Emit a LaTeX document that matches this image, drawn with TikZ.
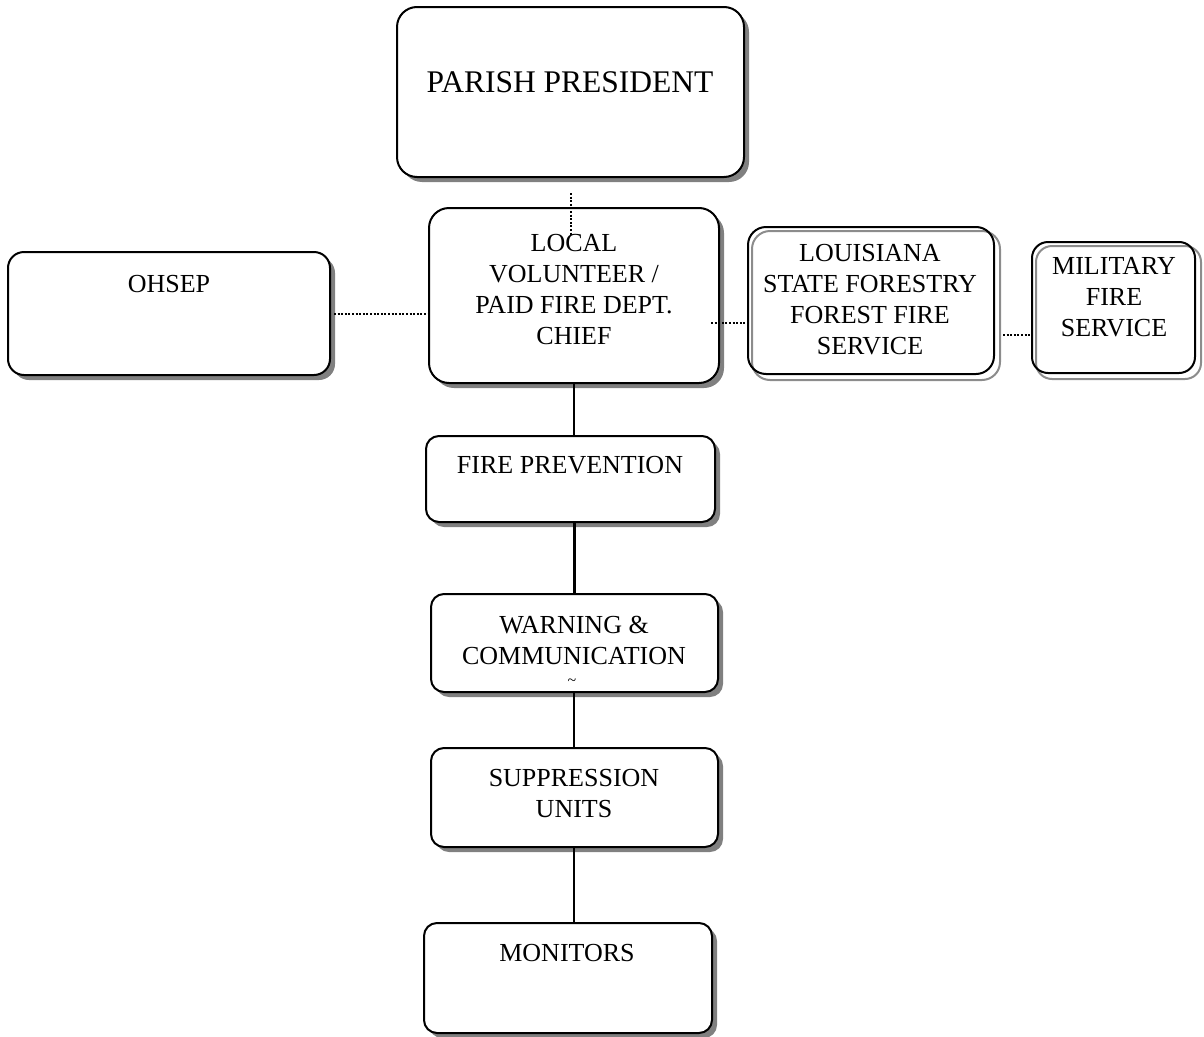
\documentclass[tikz,border=0pt]{standalone}
\usepackage{fontspec}
\setmainfont{Liberation Serif}
\usetikzlibrary{shadows,backgrounds,calc}

\begin{document}
\begin{tikzpicture}[x=1pt,y=-1pt,
  orgbox/.style={draw=black, line width=2pt, fill=white, rounded corners=#1,
    inner sep=0pt,
    drop shadow={shadow xshift=5pt, shadow yshift=-5pt, fill=black!50, opacity=1}},
  orgbox/.default=13pt,
  agencybox/.style={draw=black, line width=2pt, rounded corners=#1, inner sep=0pt},
  agencybox/.default=16pt,
  agencyedge/.style={draw=black!45, line width=2pt, rounded corners=#1},
  agencyedge/.default=16pt,
  label/.style={align=center, inner sep=0pt, font=\fontsize{26}{31}\selectfont},
  bigtitle/.style={align=center, inner sep=0pt, font=\fontsize{31.5}{36}\selectfont},
  cmdline/.style={draw=black, line width=2pt},
  heavyline/.style={draw=black, line width=3pt},
  liaison/.style={draw=black, line width=2pt, dash pattern=on 2pt off 1.6pt}
]
\useasboundingbox (0,0) rectangle (1204,1036);

% boxes of the chain of command
\node[orgbox=20pt, minimum width=347pt, minimum height=170pt] (parish) at (570.5,92) {};
\node[orgbox=20pt, minimum width=290pt, minimum height=175pt] (chief) at (574,295.5) {};
\node[orgbox=16pt, minimum width=322pt, minimum height=123pt] (ohsep) at (169,313.5) {};
\node[orgbox, minimum width=289pt, minimum height=86pt] (prevention) at (570.5,479) {};
\node[orgbox, minimum width=287pt, minimum height=98pt] (warning) at (574.5,643) {};
\node[orgbox, minimum width=287pt, minimum height=99pt] (suppression) at (574.5,797.5) {};
\node[orgbox, minimum width=288pt, minimum height=110pt] (monitors) at (568,978) {};

% outside agencies, outlined twice
\node[agencybox=18pt, minimum width=246pt, minimum height=147pt] (forestry) at (871,300.5) {};
\node[agencybox, minimum width=163pt, minimum height=131pt] (military) at (1113.5,307.5) {};
\begin{scope}[on background layer]
  \draw[agencyedge=18pt] ($(forestry.north west)+(5,5)$) rectangle ($(forestry.south east)+(5,5)$);
  \draw[agencyedge] ($(military.north west)+(5,5)$) rectangle ($(military.south east)+(5,5)$);
\end{scope}

% box texts
\node[bigtitle] (tparish) at (570,82) {PARISH PRESIDENT};
\node[label] (tchief) at (574,290) {LOCAL\\VOLUNTEER /\\PAID FIRE DEPT.\\CHIEF};
\node[label] (tohsep) at (169,284) {OHSEP};
\node[label] (tforestry) at (870,300) {LOUISIANA\\STATE FORESTRY\\FOREST FIRE\\SERVICE};
\node[label] (tmilitary) at (1114,297.5) {MILITARY\\FIRE\\SERVICE};
\node[label] (tprevention) at (570,465) {FIRE PREVENTION};
\node[label] (twarning) at (574,640) {WARNING \&\\COMMUNICATION};
\node[inner sep=0pt, font=\fontsize{16}{16}\selectfont] (ttilde) at (572,682) {\textasciitilde};
\node[label] (tsuppression) at (574,794) {SUPPRESSION\\UNITS};
\node[label] (tmonitors) at (567,953) {MONITORS};

% solid lines down the chain
\draw[cmdline] (chief.south) -- (chief.south |- prevention.north);
\draw[heavyline] (prevention.south -| chief.south) -- (chief.south |- warning.north);
\draw[cmdline] (warning.south -| chief.south) -- (chief.south |- suppression.north);
\draw[cmdline] (suppression.south -| chief.south) -- (chief.south |- monitors.north);

% dotted coordination lines
\coordinate (fromparish) at ([yshift=-15pt]parish.south);
\coordinate (intochief) at ([yshift=-29pt]parish.south |- chief.north);
\coordinate (fromchief) at ([shift={(-9pt,-27.5pt)}]chief.east);
\coordinate (fromforestry) at ([shift={(8pt,-34.5pt)}]forestry.east);
\draw[liaison] (fromparish) -- (intochief);
\draw[liaison] ([xshift=3pt]ohsep.east) -- (chief.west |- ohsep.east);
\draw[liaison] (fromchief) -- (forestry.west |- fromchief);
\draw[liaison] (fromforestry) -- (military.west |- fromforestry);
\end{tikzpicture}
\end{document}
